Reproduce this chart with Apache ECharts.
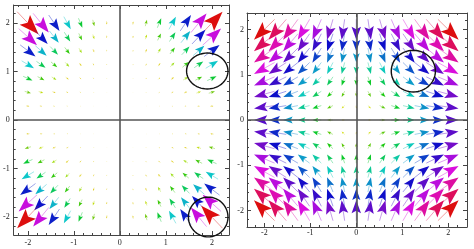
<!DOCTYPE html>
<html><head><meta charset="utf-8">
<script src="https://cdn.jsdelivr.net/npm/echarts@6/dist/echarts.min.js"></script>
<style>html,body{margin:0;padding:0;background:#fff}#c{width:474px;height:249px}</style>
</head><body><div id="c"></div><script>
// ---- tick labels ----
const majorTicks = [-2, -1, 0, 1, 2];
const minorTicks = [-2.2,-1.8,-1.6,-1.4,-1.2,-0.8,-0.6,-0.4,-0.2,0.2,0.4,0.6,0.8,1.2,1.4,1.6,1.8,2.2];

// ---- left panel: sample positions and vector components ----
const leftGridX = [-2,-1.714,-1.429,-1.143,-0.857,-0.571,-0.286,0.286,0.571,0.857,1.143,1.429,1.714,2];
const leftGridY = [2,1.714,1.429,1.143,0.857,0.571,0.286,-0.286,-0.571,-0.857,-1.143,-1.429,-1.714,-2];
const leftU = [
 [8.00,5.88,4.08,2.61,1.47,0.65,0.16,0.16,0.65,1.47,2.61,4.08,5.88,8.00],
 [6.86,5.04,3.50,2.24,1.26,0.56,0.14,0.14,0.56,1.26,2.24,3.50,5.04,6.86],
 [5.71,4.20,2.92,1.87,1.05,0.47,0.12,0.12,0.47,1.05,1.87,2.92,4.20,5.71],
 [4.57,3.36,2.33,1.49,0.84,0.37,0.09,0.09,0.37,0.84,1.49,2.33,3.36,4.57],
 [3.43,2.52,1.75,1.12,0.63,0.28,0.07,0.07,0.28,0.63,1.12,1.75,2.52,3.43],
 [2.29,1.68,1.17,0.75,0.42,0.19,0.05,0.05,0.19,0.42,0.75,1.17,1.68,2.29],
 [1.14,0.84,0.58,0.37,0.21,0.09,0.02,0.02,0.09,0.21,0.37,0.58,0.84,1.14],
 [-1.14,-0.84,-0.58,-0.37,-0.21,-0.09,-0.02,-0.02,-0.09,-0.21,-0.37,-0.58,-0.84,-1.14],
 [-2.29,-1.68,-1.17,-0.75,-0.42,-0.19,-0.05,-0.05,-0.19,-0.42,-0.75,-1.17,-1.68,-2.29],
 [-3.43,-2.52,-1.75,-1.12,-0.63,-0.28,-0.07,-0.07,-0.28,-0.63,-1.12,-1.75,-2.52,-3.43],
 [-4.57,-3.36,-2.33,-1.49,-0.84,-0.37,-0.09,-0.09,-0.37,-0.84,-1.49,-2.33,-3.36,-4.57],
 [-5.71,-4.20,-2.92,-1.87,-1.05,-0.47,-0.12,-0.12,-0.47,-1.05,-1.87,-2.92,-4.20,-5.71],
 [-6.86,-5.04,-3.50,-2.24,-1.26,-0.56,-0.14,-0.14,-0.56,-1.26,-2.24,-3.50,-5.04,-6.86],
 [-8.00,-5.88,-4.08,-2.61,-1.47,-0.65,-0.16,-0.16,-0.65,-1.47,-2.61,-4.08,-5.88,-8.00]
];
const leftV = [
 [-8.00,-6.86,-5.71,-4.57,-3.43,-2.29,-1.14,1.14,2.29,3.43,4.57,5.71,6.86,8.00],
 [-5.88,-5.04,-4.20,-3.36,-2.52,-1.68,-0.84,0.84,1.68,2.52,3.36,4.20,5.04,5.88],
 [-4.08,-3.50,-2.92,-2.33,-1.75,-1.17,-0.58,0.58,1.17,1.75,2.33,2.92,3.50,4.08],
 [-2.61,-2.24,-1.87,-1.49,-1.12,-0.75,-0.37,0.37,0.75,1.12,1.49,1.87,2.24,2.61],
 [-1.47,-1.26,-1.05,-0.84,-0.63,-0.42,-0.21,0.21,0.42,0.63,0.84,1.05,1.26,1.47],
 [-0.65,-0.56,-0.47,-0.37,-0.28,-0.19,-0.09,0.09,0.19,0.28,0.37,0.47,0.56,0.65],
 [-0.16,-0.14,-0.12,-0.09,-0.07,-0.05,-0.02,0.02,0.05,0.07,0.09,0.12,0.14,0.16],
 [-0.16,-0.14,-0.12,-0.09,-0.07,-0.05,-0.02,0.02,0.05,0.07,0.09,0.12,0.14,0.16],
 [-0.65,-0.56,-0.47,-0.37,-0.28,-0.19,-0.09,0.09,0.19,0.28,0.37,0.47,0.56,0.65],
 [-1.47,-1.26,-1.05,-0.84,-0.63,-0.42,-0.21,0.21,0.42,0.63,0.84,1.05,1.26,1.47],
 [-2.61,-2.24,-1.87,-1.49,-1.12,-0.75,-0.37,0.37,0.75,1.12,1.49,1.87,2.24,2.61],
 [-4.08,-3.50,-2.92,-2.33,-1.75,-1.17,-0.58,0.58,1.17,1.75,2.33,2.92,3.50,4.08],
 [-5.88,-5.04,-4.20,-3.36,-2.52,-1.68,-0.84,0.84,1.68,2.52,3.36,4.20,5.04,5.88],
 [-8.00,-6.86,-5.71,-4.57,-3.43,-2.29,-1.14,1.14,2.29,3.43,4.57,5.71,6.86,8.00]
];
const leftMaxMag = 11.31;

// ---- right panel: sample positions and vector components ----
const rightGridX = [-2,-1.714,-1.429,-1.143,-0.857,-0.571,-0.286,0,0.286,0.571,0.857,1.143,1.429,1.714,2];
const rightGridY = [2,1.714,1.429,1.143,0.857,0.571,0.286,0,-0.286,-0.571,-0.857,-1.143,-1.429,-1.714,-2];
const rightUByCol = [-2,-1.71,-1.43,-1.14,-0.86,-0.57,-0.29,0,0.29,0.57,0.86,1.14,1.43,1.71,2];
const rightVByRow = [-2,-1.71,-1.43,-1.14,-0.86,-0.57,-0.29,0,0.29,0.57,0.86,1.14,1.43,1.71,2];
const rightMaxMag = 2.83;

// ---- hand-drawn ellipse annotations (centre x, centre y, radius x, radius y) ----
const leftCircles = [[1.90, 1.01, 0.45, 0.37], [1.92, -2.0, 0.43, 0.41]];
const rightCircles = [[1.24, 1.08, 0.48, 0.46]];

// ---- build tables ----
const leftData = [];
leftGridY.forEach((y, r) => leftGridX.forEach((x, c) => leftData.push([x, y, leftU[r][c], leftV[r][c]])));
const rightData = [];
rightGridY.forEach((y, r) => rightGridX.forEach((x, c) => rightData.push([x, y, rightUByCol[c], rightVByRow[r]])));

function hueColor(t) {
  const h = Math.max(Math.pow(t, 0.9), 0.15) * 360;
  let l = 46;
  if (h > 80 && h < 280) l = 42;
  return 'hsl(' + (h % 360).toFixed(1) + ',88%,' + l + '%)';
}
function arrowRender(maxMag, Lmax) {
  return function (params, api) {
    const x = api.value(0), y = api.value(1), u = api.value(2), v = api.value(3);
    const m = Math.hypot(u, v);
    if (!m) return null;
    const t = m / maxMag;
    const c = api.coord([x, y]);
    const s = api.size([1, 1]);
    let dx = u * s[0], dy = -v * s[1];
    const dl = Math.hypot(dx, dy); dx /= dl; dy /= dl;
    const L = Lmax * t;
    const tip = [c[0] + dx * L / 2, c[1] + dy * L / 2];
    const tail = [c[0] - dx * L / 2, c[1] - dy * L / 2];
    const hl = 0.64 * L, hw = 0.72 * hl;
    const nx = -dy, ny = dx;
    const bx = tip[0] - dx * hl, by = tip[1] - dy * hl;
    const notch = [tip[0] - dx * hl * 0.8, tip[1] - dy * hl * 0.8];
    const col = hueColor(t);
    return { type: 'group', children: [
      { type: 'line', shape: { x1: tail[0], y1: tail[1], x2: notch[0], y2: notch[1] },
        style: { stroke: col, lineWidth: 0.9, opacity: 0.45 } },
      { type: 'polygon', shape: { points: [tip, [bx + nx * hw / 2, by + ny * hw / 2], notch, [bx - nx * hw / 2, by - ny * hw / 2]] },
        style: { fill: col } }
    ]};
  };
}
function ellipseRender(params, api) {
  const c = api.coord([api.value(0), api.value(1)]);
  const s = api.size([api.value(2), api.value(3)]);
  const pts = [];
  for (let i = 0; i < 60; i++) { const a = i / 60 * Math.PI * 2; pts.push([c[0] + s[0] * Math.cos(a), c[1] + s[1] * Math.sin(a)]); }
  return { type: 'polygon', shape: { points: pts }, style: { fill: 'none', stroke: '#111', lineWidth: 1.4 } };
}

const axisColor = '#444';
const labelStyle = { color: '#222', fontFamily: 'Liberation Serif', fontSize: 8 };
function mkAxis(grid, min, max, pos, vals, len, showLine, showLabel, margin) {
  return {
    type: 'value', gridIndex: grid, min: min, max: max, position: pos,
    axisLine: { show: showLine, onZero: false, lineStyle: { color: axisColor, width: 1 } },
    axisTick: { show: true, inside: true, length: len, customValues: vals, lineStyle: { color: axisColor, width: 1 } },
    axisLabel: Object.assign({ show: showLabel, customValues: vals, margin: margin, formatter: v => String(v) }, labelStyle),
    splitLine: { show: false }
  };
}
function axesSet(grid, xmin, xmax, ymin, ymax, xm, ym) {
  return {
    x: [mkAxis(grid, xmin, xmax, 'bottom', majorTicks, 4, true, true, xm),
        mkAxis(grid, xmin, xmax, 'bottom', minorTicks, 2, false, false, 0),
        mkAxis(grid, xmin, xmax, 'top', majorTicks, 4, true, false, 0),
        mkAxis(grid, xmin, xmax, 'top', minorTicks, 2, false, false, 0)],
    y: [mkAxis(grid, ymin, ymax, 'left', majorTicks, 4, true, true, ym),
        mkAxis(grid, ymin, ymax, 'left', minorTicks, 2, false, false, 0),
        mkAxis(grid, ymin, ymax, 'right', majorTicks, 4, true, false, 0),
        mkAxis(grid, ymin, ymax, 'right', minorTicks, 2, false, false, 0)]
  };
}
const A = axesSet(0, -2.308, 2.372, -2.371, 2.371, 4, 4);
const B = axesSet(1, -2.376, 2.407, -2.365, 2.365, 2, 3);

function zeroLines(xi, yi) {
  return { type: 'line', xAxisIndex: xi, yAxisIndex: yi, data: [], z: 1, silent: true,
    markLine: { silent: true, symbol: ['none', 'none'], label: { show: false }, animation: false,
      lineStyle: { color: '#555', width: 1.6, type: 'solid' }, emphasis: { disabled: true },
      data: [{ xAxis: 0 }, { yAxis: 0 }] } };
}

const chart = echarts.init(document.getElementById('c'), null, { renderer: 'canvas' });
chart.setOption({
  animation: false,
  backgroundColor: '#fff',
  grid: [
    { left: 10, top: 5, width: 219, height: 230 },
    { left: 247, top: 13, width: 220, height: 214 }
  ],
  xAxis: A.x.concat(B.x),
  yAxis: A.y.concat(B.y),
  series: [
    zeroLines(0, 0),
    zeroLines(4, 4),
    { type: 'custom', xAxisIndex: 0, yAxisIndex: 0, z: 3, clip: false, data: leftData, renderItem: arrowRender(leftMaxMag, 31), silent: true },
    { type: 'custom', xAxisIndex: 4, yAxisIndex: 4, z: 3, clip: false, data: rightData, renderItem: arrowRender(rightMaxMag, 29), silent: true },
    { type: 'custom', xAxisIndex: 0, yAxisIndex: 0, z: 4, clip: false, data: leftCircles, renderItem: ellipseRender, silent: true },
    { type: 'custom', xAxisIndex: 4, yAxisIndex: 4, z: 4, clip: false, data: rightCircles, renderItem: ellipseRender, silent: true }
  ]
});
</script></body></html>
